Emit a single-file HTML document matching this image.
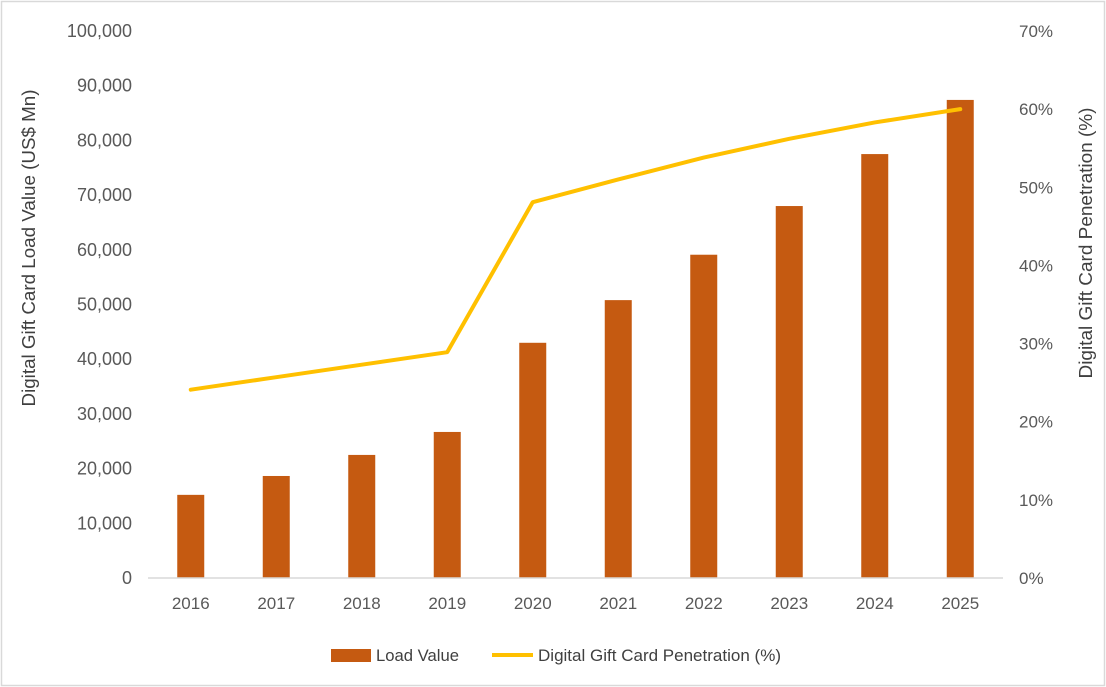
<!DOCTYPE html>
<html><head><meta charset="utf-8">
<style>
html,body{margin:0;padding:0;background:#fff;}
svg{display:block;font-family:"Liberation Sans",Arial,sans-serif;}
</style></head>
<body>
<svg id="chart" width="1106" height="687" viewBox="0 0 1106 687">
<rect x="1.5" y="1.5" width="1103" height="684" fill="#fff" stroke="#d9d9d9" stroke-width="1.5"/>
<g id="bars"></g>
<g id="lineg"></g>
<g id="axes"></g>
<text x="35" y="248" transform="rotate(-90 35 248)" text-anchor="middle" font-size="18" textLength="317" lengthAdjust="spacingAndGlyphs" fill="#404040">Digital Gift Card Load Value (US$ Mn)</text>
<text x="1092" y="243" transform="rotate(-90 1092 243)" text-anchor="middle" font-size="18" textLength="271" lengthAdjust="spacingAndGlyphs" fill="#404040">Digital Gift Card Penetration (%)</text>
<g>
<rect x="331" y="649" width="40" height="13" fill="#c55a11"/>
<text x="376" y="661" font-size="17" textLength="83" lengthAdjust="spacingAndGlyphs" fill="#404040">Load Value</text>
<line x1="492" y1="655" x2="533" y2="655" stroke="#ffc000" stroke-width="4"/>
<text x="538" y="661" font-size="17" textLength="243" lengthAdjust="spacingAndGlyphs" fill="#404040">Digital Gift Card Penetration (%)</text>
</g>
</svg>
<script>
const categories=["2016","2017","2018","2019","2020","2021","2022","2023","2024","2025"];
const loadValues=[15200,18650,22500,26700,43000,50800,59100,68000,77500,87400];
const penetration=[24.1,25.7,27.3,28.9,48.1,51.0,53.8,56.2,58.3,60.0];
const leftTicks=[0,10000,20000,30000,40000,50000,60000,70000,80000,90000,100000];
const rightTicks=[0,10,20,30,40,50,60,70];

const NS="http://www.w3.org/2000/svg";
const X0=148,X1=1003,Y0=578,Y1=31;
const band=(X1-X0)/categories.length;
const xC=i=>X0+band*(i+0.5);
const yL=v=>Y0-(v/100000)*(Y0-Y1);
const yR=v=>Y0-(v/70)*(Y0-Y1);
function mk(tag,attrs,parent,text){const e=document.createElementNS(NS,tag);for(const k in attrs)e.setAttribute(k,attrs[k]);if(text!=null)e.textContent=text;parent.appendChild(e);return e;}
const axes=document.getElementById('axes'),bars=document.getElementById('bars'),lg=document.getElementById('lineg');

const base=mk('line',{x1:X0,y1:Y0,x2:X1,y2:Y0,stroke:'#d9d9d9','stroke-width':1.5},axes);



leftTicks.forEach(v=>{
  const t=mk('text',{x:132,y:yL(v)+6,'text-anchor':'end','font-size':18,fill:'#595959'},axes,v.toLocaleString('en-US'));
  
  
});
rightTicks.forEach(v=>{
  const t=mk('text',{x:1019,y:yR(v)+6,'text-anchor':'start','font-size':17,fill:'#595959'},axes,v+'%');
  
  
});
categories.forEach((c,i)=>{
  const t=mk('text',{x:xC(i),y:609,'text-anchor':'middle','font-size':17,fill:'#595959'},axes,c);
  
  
});
const bw=27;
loadValues.forEach((v,i)=>{
  const r=mk('rect',{x:xC(i)-bw/2,y:yL(v),width:bw,height:Y0-yL(v),fill:'#c55a11'},bars);
  
  
});
const pts=penetration.map((v,i)=>xC(i)+','+yR(v)).join(' ');
const pl=mk('polyline',{points:pts,fill:'none',stroke:'#ffc000','stroke-width':4,'stroke-linejoin':'round','stroke-linecap':'round'},lg);


</script>
</body></html>
